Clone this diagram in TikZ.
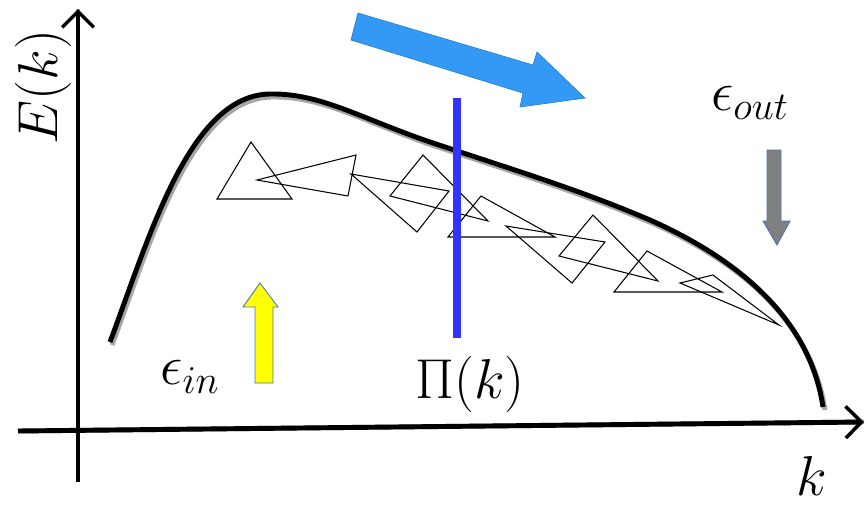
\RequirePackage{fix-cm}
\documentclass[tikz,border=0pt]{standalone}
\usepackage{xcolor}
\usepackage{tikz}
\usetikzlibrary{arrows.meta}
\definecolor{SpBlue}{HTML}{3399F5}
\definecolor{SpCut}{HTML}{3333FF}
\definecolor{SpYellow}{HTML}{FFFF00}
\definecolor{SpGray}{HTML}{808080}
\definecolor{SpEdge}{HTML}{4A72B8}
\definecolor{SpShadow}{HTML}{A6A6A6}

\begin{document}
\begin{tikzpicture}[x=0.02cm,y=-0.02cm,
  lbl/.style={font=\fontsize{32}{38}\selectfont,inner sep=0pt},
  axisline/.style={line width=2.8pt},
  axistip/.style={-{Straight Barb[length=9pt,width=18pt,line width=2pt]}},
  shade/.style={SpShadow,shift={(2,3)}},
  tri/.style={black,line width=0.6pt,line join=miter}]
\path[use as bounding box] (0,0) rectangle (867,505);
% axes
\coordinate (xstart) at (18,431);
\coordinate (xend) at (864,422);
\coordinate (ystart) at (78,482);
\coordinate (yend) at (78,9);
\draw[axisline,shade] (xstart) -- (xend);
\draw[axisline,shade] (ystart) -- (yend);
\draw[axisline,axistip] (xstart) -- (xend);
\draw[axisline,axistip] (ystart) -- (yend);
% spectrum
\draw[axisline,shade] (110,342) .. controls (150,235) and (190,95) .. (270,94)
  .. controls (320,93) and (360,118) .. (430,142)
  .. controls (520,172) and (580,190) .. (650,220)
  .. controls (740,260) and (810,320) .. (823,407);
\draw[axisline] (110,342) .. controls (150,235) and (190,95) .. (270,94)
  .. controls (320,93) and (360,118) .. (430,142)
  .. controls (520,172) and (580,190) .. (650,220)
  .. controls (740,260) and (810,320) .. (823,407);
% eddies
\draw[tri] (251,142) -- (217,199) -- (292,199) -- cycle;
\draw[tri] (257,180) -- (356,155) -- (348,196) -- cycle;
\draw[tri] (351,174) -- (449,191) -- (417,232) -- cycle;
\draw[tri] (390,196) -- (423,155) -- (488,221) -- cycle;
\draw[tri] (448,237) -- (481,196) -- (555,237) -- cycle;
\draw[tri] (506,226) -- (605,242) -- (572,283) -- cycle;
\draw[tri] (559,256) -- (593,215) -- (658,281) -- cycle;
\draw[tri] (614,292) -- (647,251) -- (722,292) -- cycle;
\draw[tri] (680,283) -- (713,275) -- (779,325) -- cycle;
% flux cut
\draw[SpCut,line width=4pt] (457,98) -- (457,338);
% cascade arrow
\filldraw[fill=SpBlue,draw=SpBlue!85!black,line width=0.4pt] (358,13) -- (533,65) -- (537,52) -- (585,98) -- (520,107) -- (523,93) -- (351,40) -- cycle;
% injection and dissipation
\filldraw[fill=SpYellow,draw=SpEdge,line width=0.5pt] (255,383) -- (255,307) -- (243,307) -- (260,283) -- (278,307) -- (273,307) -- (273,383) -- cycle;
\filldraw[fill=SpGray,draw=SpEdge,line width=0.5pt] (767,150) -- (781,150) -- (781,221) -- (790,221) -- (777,245) -- (763,221) -- (767,221) -- cycle;
% labels
\node[lbl,rotate=90] (Elabel) at (43,87) {$E(k)$};
\node[lbl] (klabel) at (812,476) {$k$};
\node[lbl] (Pilabel) at (470,384) {$\Pi(k)$};
\node[lbl] (inlabel) at (190,377) {$\epsilon_{in}$};
\node[lbl] (outlabel) at (750,103) {$\epsilon_{out}$};
\end{tikzpicture}
\end{document}
